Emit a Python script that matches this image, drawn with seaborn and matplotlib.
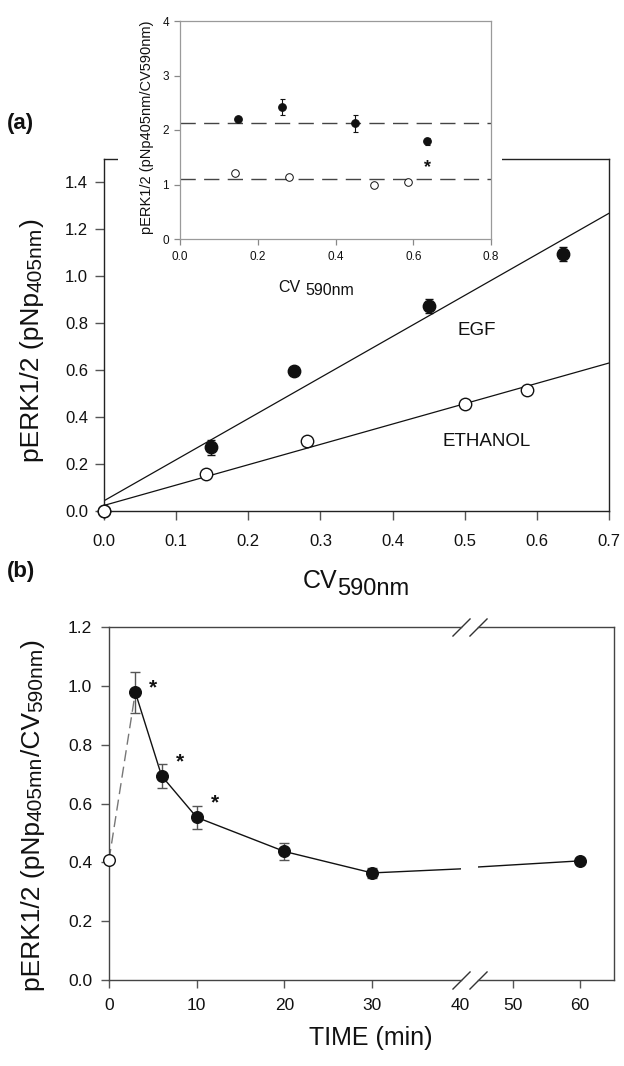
import numpy as np
import matplotlib
matplotlib.use("Agg")
import matplotlib.pyplot as plt
import seaborn as sns
from matplotlib.transforms import IdentityTransform
from matplotlib.patches import Rectangle

# ---------------- data ----------------
# (a) pERK1/2 signal against cell number (crystal violet)
cv_egf = [0.0, 0.148, 0.263, 0.450, 0.636]
perk_egf = [0.0, 0.272, 0.596, 0.872, 1.094]
perk_egf_err = [0.0, 0.032, 0.010, 0.030, 0.030]

cv_eth = [0.0, 0.142, 0.281, 0.500, 0.586]
perk_eth = [0.0, 0.157, 0.298, 0.455, 0.515]
perk_eth_err = [0.0, 0.008, 0.010, 0.010, 0.014]

# inset: normalised signal pERK/CV
ratio_egf = [2.20, 2.42, 2.12, 1.79]
ratio_egf_err = [0.04, 0.14, 0.16, 0.06]
ratio_eth = [1.21, 1.13, 0.99, 1.04]
ratio_eth_err = [0.03, 0.03, 0.02, 0.02]

# (b) time course of EGF stimulation
time_ctrl = [0]
ratio_ctrl = [0.408]
time_egf = [3, 6, 10, 20, 30, 60]
ratio_time = [0.978, 0.694, 0.553, 0.437, 0.364, 0.405]
ratio_time_err = [0.070, 0.040, 0.040, 0.030, 0.017, 0.006]
significant = [True, True, True, False, False, False]

a_xticks = [0.0, 0.1, 0.2, 0.3, 0.4, 0.5, 0.6, 0.7]
a_yticks = [0.0, 0.2, 0.4, 0.6, 0.8, 1.0, 1.2, 1.4]
in_xticks = [0.0, 0.2, 0.4, 0.6, 0.8]
in_yticks = [0, 1, 2, 3, 4]
b_yticks = [0.0, 0.2, 0.4, 0.6, 0.8, 1.0, 1.2]
b_xticks_left = [0, 10, 20, 30, 40]
b_xticks_right = [50, 60]

# ---------------- style ----------------
W, H = 624, 1066
sns.set_theme(style="ticks")
plt.rcParams["font.family"] = ["Liberation Sans", "DejaVu Sans"]
INK = "#111111"

fig = plt.figure(figsize=(W / 100, H / 100), dpi=100)
fig.patch.set_facecolor("white")


def px_axes(left, top, right, bottom, z=0):
    ax = fig.add_axes([left / W, 1 - bottom / H, (right - left) / W, (bottom - top) / H])
    ax.set_zorder(z)
    return ax


def style_axes(ax, spine_color, tick_color, lw, size, length, pad_x, pad_y):
    for sp in ax.spines.values():
        sp.set_color(spine_color)
        sp.set_linewidth(lw)
        sp.set_visible(True)
    ax.tick_params(axis="both", direction="out", color=tick_color, width=lw,
                   length=length, labelsize=size, labelcolor=INK)
    ax.tick_params(axis="x", pad=pad_x)
    ax.tick_params(axis="y", pad=pad_y)
    ax.grid(False)
    ax.set_facecolor("white")


def dots(ax, x, y, filled, size, lw=1.0):
    sns.scatterplot(x=x, y=y, ax=ax, s=size, color=INK if filled else "white",
                    edgecolor=INK, linewidth=lw, zorder=5, legend=False)
    ax.collections[-1].set_clip_on(False)


def bars(ax, x, y, err, color, capsize, lw=1.0):
    ax.errorbar(x, y, yerr=err, fmt="none", ecolor=color, elinewidth=lw,
                capsize=capsize, capthick=lw, zorder=4, clip_on=False)


def rich_text(center, base, parts, rotation=0, color=INK):
    """Lay text pieces end to end; `center` is measured along the reading
    direction and `base` is the baseline position across it (pixels from the
    top-left corner). Each part: (text, size, baseline drop px, gap px)."""
    r = fig.canvas.get_renderer()
    made = []
    for s, size, drop, gap in parts:
        t = fig.text(0, 0, s, fontsize=size, rotation=rotation, rotation_mode="anchor",
                     ha="left", va="baseline", transform=IdentityTransform(), color=color)
        ext = t.get_window_extent(r)
        made.append((t, ext.width if rotation == 0 else ext.height, drop, gap))
    total = sum(L + g for _, L, _, g in made)
    pos = -total / 2
    for t, L, drop, gap in made:
        pos += gap
        if rotation == 0:
            t.set_position((center + pos, H - base - drop))
        else:
            t.set_position((base + drop, H - center + pos))
        pos += L


# ---------------- panel (a) ----------------
ax_a = px_axes(104, 158.5, 609, 511, z=0)
ax_a.set_xlim(0, 0.7)
ax_a.set_ylim(0, 1.5)
for xs, ys in ((cv_egf, perk_egf), (cv_eth, perk_eth)):
    sns.regplot(x=xs, y=ys, ax=ax_a, ci=None, scatter=False, truncate=False,
                color=INK, line_kws=dict(lw=0.9))
bars(ax_a, cv_egf[1:], perk_egf[1:], perk_egf_err[1:], INK, 2.8)
bars(ax_a, cv_eth[1:], perk_eth[1:], perk_eth_err[1:], INK, 2.8)
dots(ax_a, cv_egf, perk_egf, True, 80)
dots(ax_a, cv_eth, perk_eth, False, 80)
ax_a.set_xlim(0, 0.7)
ax_a.set_ylim(0, 1.5)
ax_a.set_xticks(a_xticks)
ax_a.set_xticklabels([f"{v:.1f}" for v in a_xticks])
ax_a.set_yticks(a_yticks)
ax_a.set_yticklabels([f"{v:.1f}" for v in a_yticks])
style_axes(ax_a, "#222222", "#555555", 1.0, 12, 6.5, 10, 5)
ax_a.set_xlabel("")
ax_a.set_ylabel("")
ax_a.text(0.516, 0.768, "EGF", ha="center", va="center", fontsize=13.5, color=INK)
ax_a.text(0.530, 0.296, "ETHANOL", ha="center", va="center", fontsize=13.5, color=INK)

# opaque area behind the inset
fig.add_artist(Rectangle((118 / W, 1 - 168 / H), (502 - 118) / W, 20 / H,
                         transform=fig.transFigure, facecolor="white",
                         edgecolor="none", zorder=1))

# ---------------- inset ----------------
ax_in = px_axes(180, 21, 491, 239, z=2)
ax_in.axhline(np.mean(ratio_egf), color="#444444", lw=1.0, dashes=(11, 6), zorder=2)
ax_in.axhline(np.mean(ratio_eth), color="#444444", lw=1.0, dashes=(11, 6), zorder=2)
bars(ax_in, cv_egf[1:], ratio_egf, ratio_egf_err, INK, 1.8, lw=0.8)
bars(ax_in, cv_eth[1:], ratio_eth, ratio_eth_err, "#666666", 1.8, lw=0.8)
dots(ax_in, cv_egf[1:], ratio_egf, True, 30, lw=0.8)
dots(ax_in, cv_eth[1:], ratio_eth, False, 30, lw=0.7)
ax_in.annotate("*", xy=(cv_egf[-1], ratio_egf[-1]), xytext=(0, -26),
               textcoords="offset pixels", ha="center", va="center",
               fontsize=13, fontweight="bold", color=INK)
ax_in.set_xlim(0, 0.8)
ax_in.set_ylim(0, 4)
ax_in.set_xticks(in_xticks)
ax_in.set_xticklabels([f"{v:.1f}" for v in in_xticks])
ax_in.set_yticks(in_yticks)
ax_in.set_yticklabels([str(v) for v in in_yticks])
style_axes(ax_in, "#9a9a9a", "#888888", 0.9, 8.5, 4, 5, 4)
ax_in.set_xlabel("")
ax_in.set_ylabel("")

# ---------------- panel (b): broken time axis ----------------
ax_bl = px_axes(109, 627, 461, 980, z=0)
ax_br = px_axes(478, 627, 614, 980, z=0)
limits = {ax_bl: (0, 40.14), ax_br: (44.78, 65.07)}
t_all = np.array(time_egf)
v_all = np.array(ratio_time)
e_all = np.array(ratio_time_err)
for ax, (lo, hi) in limits.items():
    sns.lineplot(x=time_egf, y=ratio_time, ax=ax, color=INK, lw=1.0,
                 estimator=None, sort=True, legend=False)
    m = (t_all >= lo) & (t_all <= hi)
    bars(ax, t_all[m], v_all[m], e_all[m], "#555555", 3.6)
    dots(ax, t_all[m], v_all[m], True, 70)
    ax.set_xlim(lo, hi)
    ax.set_ylim(0, 1.2)
    style_axes(ax, "#444444", "#555555", 1.0, 12.5, 6, 7, 6)
    ax.set_xlabel("")
    ax.set_ylabel("")

sns.lineplot(x=[time_ctrl[0], time_egf[0]], y=[ratio_ctrl[0], ratio_time[0]], ax=ax_bl,
             color="#777777", lw=1.0, linestyle=(0, (8, 4)), estimator=None, legend=False)
dots(ax_bl, time_ctrl, ratio_ctrl, False, 70)

for t, v, e, sig in zip(time_egf, ratio_time, ratio_time_err, significant):
    if sig:
        ax_bl.annotate("*", xy=(t, v), xytext=(18, 14 if t > 3 else 4),
                       textcoords="offset pixels", ha="center", va="center",
                       fontsize=15, fontweight="bold", color=INK)

ax_bl.set_xticks(b_xticks_left)
ax_bl.set_xticklabels([str(v) for v in b_xticks_left])
ax_bl.xaxis.get_major_ticks()[-1].tick1line.set_visible(False)
ax_bl.set_yticks(b_yticks)
ax_bl.set_yticklabels([f"{v:.1f}" for v in b_yticks])
ax_bl.spines["right"].set_visible(False)

ax_br.set_xticks(b_xticks_right)
ax_br.set_xticklabels([str(v) for v in b_xticks_right])
ax_br.set_yticks([])
ax_br.spines["left"].set_visible(False)

# break marks on the time axis
slash = dict(marker=[(-1, -1), (1, 1)], markersize=13, linestyle="none",
             color="#333333", mec="#333333", mew=1.0, clip_on=False)
ax_bl.plot([1, 1], [0, 1], transform=ax_bl.transAxes, **slash)
ax_br.plot([0, 0], [0, 1], transform=ax_br.transAxes, **slash)

# ---------------- labels ----------------
fig.text(7, H - 124, "(a)", ha="left", va="center", fontsize=16, fontweight="bold",
         transform=IdentityTransform(), color=INK)
fig.text(7, H - 571, "(b)", ha="left", va="center", fontsize=16, fontweight="bold",
         transform=IdentityTransform(), color=INK)

rich_text(340, 39, [("pERK1/2 (pNp", 19, 0, 0), ("405nm", 15, 2, 0), (")", 19, 0, 0)],
          rotation=90)
rich_text(356, 588, [("CV", 18, 0, 0), ("590nm", 17, 7, 0)])

rich_text(127, 151, [("pERK1/2 (pNp405nm/CV590nm)", 10.5, 0, 0)], rotation=90)
rich_text(316, 292, [("CV", 11.5, 0, 0), ("590nm", 11.5, 3, 5)])

rich_text(815, 40, [("pERK1/2 (pNp", 19, 0, 0), ("405mn", 15, 2, 0), ("/CV", 19, 0, 0),
                    ("590nm", 15, 2, 0), (")", 19, 0, 0)], rotation=90)
rich_text(371, 1045, [("TIME (min)", 18, 0, 0)])

fig.savefig("out.png", dpi=100, facecolor="white")
